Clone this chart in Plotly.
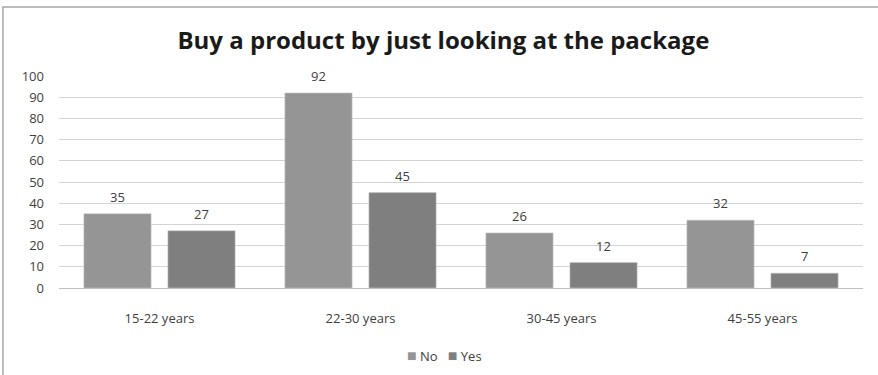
import plotly.graph_objects as go

# Survey responses by age group
categories = ["15-22 years", "22-30 years", "30-45 years", "45-55 years"]
no_values = [35, 92, 26, 32]
yes_values = [27, 45, 12, 7]
y_ticks = [0, 10, 20, 30, 40, 50, 60, 70, 80, 90, 100]
series_names = ["No", "Yes"]
series_colors = ["#959595", "#7f7f7f"]

FONT = "Open Sans, Noto Sans, sans-serif"
TEXT_COLOR = "#404040"

fig = go.Figure()
for name, vals, color in zip(series_names, (no_values, yes_values), series_colors):
    fig.add_trace(go.Bar(
        name=name, x=categories, y=vals, showlegend=False,
        marker=dict(color=color, line=dict(color="#c8c8c8", width=0.6)),
    ))

# Value labels above each bar
for series, shift in ((no_values, -42), (yes_values, 42)):
    for cat, val in zip(categories, series):
        fig.add_annotation(
            x=cat, y=val, text=str(val), showarrow=False,
            xshift=shift, yshift=17, yanchor="middle",
            font=dict(family=FONT, size=13, color=TEXT_COLOR),
        )

# Compact legend row below the axis
legend_text = "&nbsp;&nbsp;&nbsp;".join(
    f"<span style='color:{c};font-size:16px'>■</span>&nbsp;{n}"
    for n, c in zip(series_names, series_colors)
)
fig.add_annotation(
    xref="paper", yref="paper", x=0.48, y=-0.316,
    xanchor="center", yanchor="middle", showarrow=False,
    text=legend_text, font=dict(family=FONT, size=13, color=TEXT_COLOR),
)

# Outer chart frame
fig.add_shape(
    type="rect", xref="paper", yref="paper",
    x0=-0.0697, x1=1.03, y0=-0.45, y1=1.325,
    line=dict(color="#a6a6a6", width=1.5), layer="below",
)

fig.update_layout(
    width=878, height=375,
    margin=dict(l=59, r=15, t=76, b=87),
    paper_bgcolor="white", plot_bgcolor="white",
    barmode="group", bargap=0.164, bargroupgap=0.2,
    showlegend=False,
    title=dict(
        text="<b>Buy a product by just looking at the package</b>",
        x=0.505, xanchor="center", y=0.893, yanchor="middle",
        font=dict(family=FONT, size=24, color="#1a1a1a"),
    ),
    font=dict(family=FONT, size=13, color=TEXT_COLOR),
    xaxis=dict(
        automargin=False,
        showgrid=False, showline=True, linecolor="#bfbfbf", linewidth=1,
        ticks="", ticklabelstandoff=18,
        tickfont=dict(family=FONT, size=13, color=TEXT_COLOR),
    ),
    yaxis=dict(
        automargin=False,
        range=[0, 100], tickvals=y_ticks, showgrid=True,
        gridcolor="#d4d4d4", gridwidth=1, zeroline=False,
        showline=False, ticks="", ticklabelstandoff=14,
        tickfont=dict(family=FONT, size=13, color=TEXT_COLOR),
    ),
)

fig.write_html("out.html")
